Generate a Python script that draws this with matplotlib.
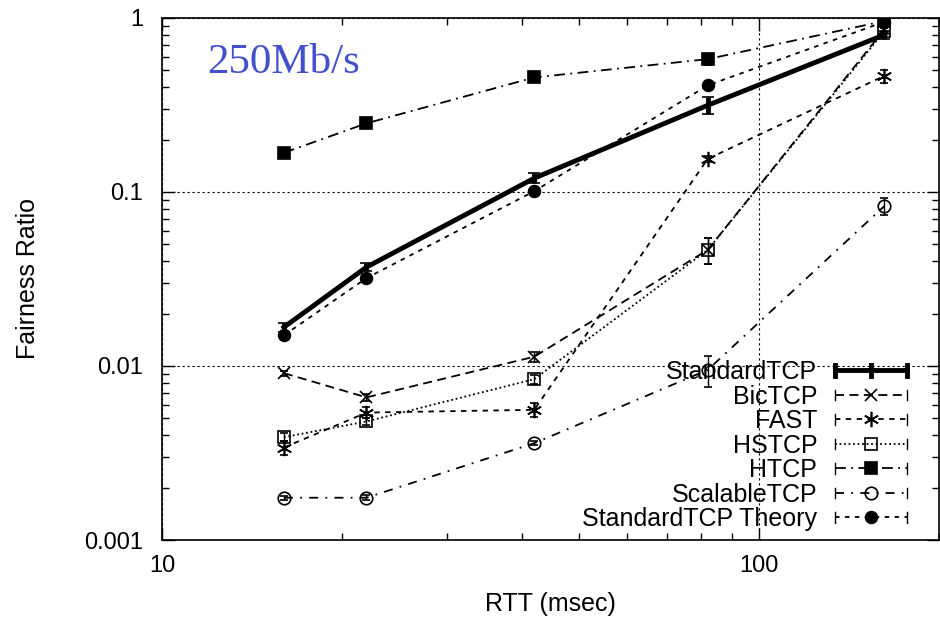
import numpy as np
import matplotlib
matplotlib.use('Agg')
import matplotlib.pyplot as plt
from matplotlib.lines import Line2D
from matplotlib.legend_handler import HandlerLine2D

plt.rcParams['font.family'] = ['Liberation Sans', 'DejaVu Sans']

rtt = [16, 22, 42, 82, 162]

series = ['StandardTCP', 'BicTCP', 'FAST', 'HSTCP', 'HTCP', 'ScalableTCP', 'StandardTCP Theory']

standard_tcp = [0.0167, 0.037, 0.120, 0.315, 0.80]
bic_tcp = [0.0091, 0.0066, 0.0113, 0.0465, 0.86]
fast = [0.0034, 0.0054, 0.0056, 0.155, 0.465]
hstcp = [0.0039, 0.0048, 0.0084, 0.0465, 0.84]
htcp = [0.168, 0.248, 0.455, 0.58, 0.96]
scalable_tcp = [0.00175, 0.00175, 0.0036, 0.0095, 0.083]
theory = [0.0150, 0.032, 0.101, 0.41, 0.95]

# error bar half widths
standard_tcp_err = [0.001, 0.002, 0.008, 0.035, 0.04]
bic_tcp_err = [0.0003, 0.0003, 0.0008, 0.008, 0.03]
fast_err = [0.0003, 0.0004, 0.0005, 0.006, 0.04]
hstcp_err = [0.0002, 0.0002, 0.0005, 0.008, 0.03]
htcp_err = [0.004, 0.005, 0.01, 0.04, 0.03]
scalable_tcp_err = [0.00005, 0.00006, 0.0001, 0.0019, 0.009]
theory_err = [0, 0, 0, 0, 0]

values = [standard_tcp, bic_tcp, fast, hstcp, htcp, scalable_tcp, theory]
errors = [standard_tcp_err, bic_tcp_err, fast_err, hstcp_err, htcp_err, scalable_tcp_err, theory_err]
markers = ['None', 'x', (6, 2, 0), 's', 's', 'o', 'o']
facecolors = ['k', 'k', 'k', 'none', 'k', 'none', 'k']
msizes = [0, 9, 11, 9, 9, 9, 8.5]
linewidths = [3.5, 1.3, 1.3, 1.3, 1.3, 1.3, 1.3]
dashes = [None, (5, 3), (3, 3), (1, 1.5), (6, 3, 1, 3), (5, 4, 1, 4), (2.5, 3)]


class CapHandler(HandlerLine2D):
    # gnuplot style key: line sample with small bars at both ends
    def create_artists(self, legend, orig_handle, xdescent, ydescent, width, height, fontsize, trans):
        artists = super().create_artists(legend, orig_handle, xdescent, ydescent, width, height, fontsize, trans)
        lw = orig_handle.get_linewidth()
        blw = lw if lw > 2 else 1.0
        y = height / 2.0 - ydescent
        cap = height * 0.3
        xs = [-xdescent, -xdescent + width]
        if lw > 2:
            xs.append(-xdescent + width / 2.0)
        for x in xs:
            artists.append(Line2D([x, x], [y - cap, y + cap], color='k', lw=blw, transform=trans))
        return artists


fig = plt.figure(figsize=(9.4, 6.19), dpi=100)
ax = fig.add_axes([0.1723, 0.1276, 0.8267, 0.8434])

handles = []
for name, v, e, m, fc, ms, lw, d in zip(series, values, errors, markers, facecolors, msizes, linewidths, dashes):
    eb = ax.errorbar(rtt, v, yerr=e, color='k', marker=m, markersize=ms,
                     markerfacecolor=fc, markeredgecolor='k', markeredgewidth=1.2,
                     lw=lw, elinewidth=lw if lw > 2 else 1.0, capsize=4 if lw > 2 else 3,
                     capthick=lw if lw > 2 else 1.0)
    h = Line2D([], [], color='k', lw=lw, marker=m, markersize=ms, markerfacecolor=fc,
               markeredgecolor='k', markeredgewidth=1.2, label=name)
    if d is not None:
        eb[0].set_dashes(d)
        h.set_dashes(d)
    handles.append(h)

ax.set_xscale('log')
ax.set_yscale('log')
ax.set_xlim(10, 200)
ax.set_ylim(0.001, 1)
ax.set_xticks([10, 100])
ax.set_xticklabels(['10', '100'])
ax.set_yticks([0.001, 0.01, 0.1, 1])
ax.set_yticklabels(['0.001', '0.01', '0.1', '1'])
ax.tick_params(which='both', direction='in', top=True, right=True, labelsize=17)
ax.tick_params(axis='y', which='both', pad=13.5)
ax.tick_params(axis='x', which='both', pad=11)
ax.tick_params(which='major', length=9, width=1)
ax.tick_params(which='minor', length=5, width=1)
ax.grid(True, which='major', color='k', linestyle=(0, (2, 2.5)), linewidth=0.8)
for s in ax.spines.values():
    s.set_linewidth(1.2)

ax.set_xlabel('RTT (msec)', fontsize=18)
ax.set_ylabel('Fairness Ratio', fontsize=18)
ax.xaxis.set_label_coords(0.5, -0.0996)
ax.yaxis.set_label_coords(-0.157, 0.5)

ax.text(0.058, 0.895, '250Mb/s', transform=ax.transAxes, fontsize=31,
        family='Liberation Serif', color='#4350cc')

ax.legend(handles=handles, handler_map={Line2D: CapHandler()},
          loc='lower right', markerfirst=False, frameon=False, fontsize=18,
          handlelength=2.9, labelspacing=0.02, handletextpad=0.7,
          borderaxespad=0.0, bbox_to_anchor=(0.972, -0.002))

fig.savefig('out.png', dpi=100)
